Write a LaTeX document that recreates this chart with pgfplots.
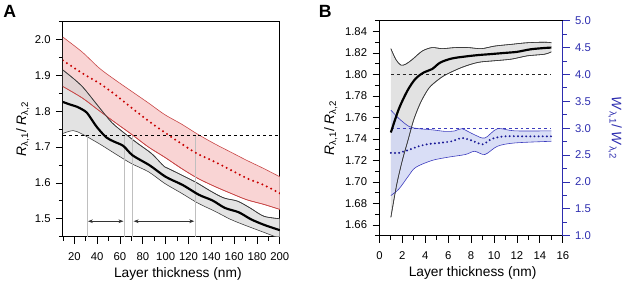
\documentclass[border=0pt]{standalone}
\usepackage{fontspec}
\setmainfont{Liberation Sans}
\usepackage{pgfplots}
\pgfplotsset{compat=1.18}
\usepgfplotslibrary{fillbetween}
\usetikzlibrary{arrows.meta}
\definecolor{redfill}{RGB}{248,205,205}
\definecolor{rededge}{RGB}{200,70,70}
\definecolor{reddot}{RGB}{200,0,0}
\definecolor{grayfill}{RGB}{226,226,226}
\definecolor{grayfillA}{RGB}{212,212,212}
\definecolor{grayedge}{RGB}{60,60,60}
\definecolor{bluefill}{RGB}{208,214,244}
\definecolor{blueedge}{RGB}{60,60,190}
\definecolor{bluedot}{RGB}{25,25,150}
\definecolor{blueaxis}{RGB}{45,45,175}
\pgfplotsset{common/.style={scale only axis, tick align=outside,
  major tick length=7bp, minor tick length=4bp,
  /pgf/number format/assume math mode=true,
  tick label style={font=\fontsize{11.5}{13}\selectfont},
  xticklabel style={yshift=-6bp},
  label style={font=\fontsize{14}{16}\selectfont},
  axis line style={line width=0.9pt},
  every tick/.style={line width=0.8pt},
  xtick pos=bottom, ytick pos=left}}
\begin{document}
\begin{tikzpicture}
% ---------------- Panel A
\begin{axis}[common, at={(62bp,48bp)}, anchor=south west, width=220bp, height=218bp,
  xmin=10, xmax=200, ymin=1.45, ymax=2.05,
  xtick={20,40,60,80,100,120,140,160,180,200}, minor xtick={10,30,50,70,90,110,130,150,170,190},
  ytick={1.5,1.6,1.7,1.8,1.9,2.0}, minor ytick={1.45,1.55,1.65,1.75,1.85,1.95,2.05},
  yticklabel style={xshift=-2bp, /pgf/number format/.cd, fixed, fixed zerofill, precision=1},
  xlabel={Layer thickness (nm)}, ylabel={\textit{R}\textsubscript{λ,1}/ \textit{R}\textsubscript{λ,2}},
  xlabel style={at={(axis description cs:0.53,-0.174)}, anchor=center},
  ylabel style={at={(axis description cs:-0.185,0.5)}, anchor=center},
]
\addplot[name path=ru, rededge, line width=0.6pt, smooth] coordinates {(10,2.007)(27,1.965)(42,1.920)(56,1.887)(70,1.856)(85,1.823)(99,1.791)(114,1.764)(128,1.736)(143,1.709)(157,1.686)(171,1.663)(186,1.640)(200,1.617)};
\addplot[name path=rl, rededge, line width=0.6pt, smooth] coordinates {(10,1.869)(27,1.837)(42,1.801)(56,1.768)(70,1.736)(85,1.700)(99,1.672)(114,1.640)(128,1.613)(143,1.590)(157,1.571)(171,1.553)(186,1.540)(200,1.526)};
\addplot[redfill, fill opacity=0.85] fill between[of=ru and rl];
\addplot[name path=bu, grayedge, line width=0.6pt, smooth] coordinates {(10,1.915)(19,1.892)(27,1.869)(33,1.846)(42,1.810)(53,1.768)(65,1.736)(76,1.709)(88,1.681)(99,1.645)(105,1.636)(117,1.617)(128,1.599)(140,1.576)(151,1.558)(163,1.549)(174,1.530)(186,1.507)(200,1.500)};
\addplot[name path=bl, grayedge, line width=0.6pt, smooth] coordinates {(10,1.738)(19,1.746)(27,1.736)(42,1.709)(56,1.681)(70,1.654)(85,1.631)(99,1.599)(114,1.571)(128,1.544)(143,1.521)(157,1.498)(171,1.480)(186,1.462)(200,1.445)};
\addplot[grayfillA, fill opacity=0.65] fill between[of=bu and bl];
\addplot[rededge, line width=0.6pt, smooth] coordinates {(10,1.869)(27,1.837)(42,1.801)(56,1.768)(70,1.736)(85,1.700)(99,1.672)(114,1.640)(128,1.613)(143,1.590)(157,1.571)(171,1.553)(186,1.540)(200,1.526)};
\addplot[grayedge, line width=0.6pt, smooth] coordinates {(10,1.915)(19,1.892)(27,1.869)(33,1.846)(42,1.810)(53,1.768)(65,1.736)(76,1.709)(88,1.681)(99,1.645)(105,1.636)(117,1.617)(128,1.599)(140,1.576)(151,1.558)(163,1.549)(174,1.530)(186,1.507)(200,1.500)};
% verticals
\addplot[black!25, line width=0.6pt] coordinates {(31,1.45)(31,1.732)};
\addplot[black!25, line width=0.6pt] coordinates {(64,1.45)(64,1.732)};
\addplot[black!25, line width=0.6pt] coordinates {(71,1.45)(71,1.732)};
\addplot[black!25, line width=0.6pt] coordinates {(126,1.45)(126,1.732)};
% dashed
\addplot[black, dashed, line width=0.8pt] coordinates {(10,1.732)(200,1.732)};
% means
\addplot[reddot, line width=2.3pt, line cap=round, dash pattern=on 0pt off 5pt, smooth] coordinates {(10,1.942)(27,1.906)(42,1.878)(56,1.846)(70,1.810)(85,1.773)(99,1.741)(114,1.709)(128,1.681)(143,1.659)(157,1.636)(171,1.613)(186,1.594)(200,1.571)};
\addplot[black, line width=2.2pt, smooth] coordinates {(10,1.826)(16,1.819)(22,1.813)(27,1.805)(31,1.796)(35,1.778)(40,1.755)(48,1.727)(55,1.715)(63,1.703)(71,1.677)(86,1.649)(100,1.617)(115,1.594)(129,1.567)(141,1.551)(152,1.530)(164,1.518)(175,1.498)(187,1.482)(200,1.468)};
% arrows
\addplot[black!80, line width=0.6pt, {Stealth[length=5bp]}-{Stealth[length=5bp]}] coordinates {(32,1.493)(63,1.493)};
\addplot[black!80, line width=0.6pt, {Stealth[length=5bp]}-{Stealth[length=5bp]}] coordinates {(72,1.493)(125,1.493)};
\end{axis}
% ---------------- Panel B left
\begin{axis}[common, at={(383bp,49bp)}, anchor=south west, width=186bp, height=218bp,
  xmin=0, xmax=16, ymin=1.65, ymax=1.85,
  xtick={0,2,4,6,8,10,12,14,16}, minor xtick={1,3,5,7,9,11,13,15},
  ytick={1.66,1.68,1.70,1.72,1.74,1.76,1.78,1.80,1.82,1.84},
  minor ytick={1.65,1.67,1.69,1.71,1.73,1.75,1.77,1.79,1.81,1.83,1.85},
  yticklabel style={xshift=-2bp, /pgf/number format/.cd, fixed, fixed zerofill, precision=2},
  xlabel={Layer thickness (nm)}, ylabel={\textit{R}\textsubscript{λ,1}/ \textit{R}\textsubscript{λ,2}},
  xlabel style={at={(axis description cs:0.508,-0.174)}, anchor=center},
  ylabel style={at={(axis description cs:-0.265,0.5)}, anchor=center},
]
\addplot[name path=ku, grayedge, line width=0.6pt, smooth] coordinates {(1,1.824)(1.43,1.814)(1.87,1.8087)(2.3,1.8096)(2.88,1.814)(3.74,1.8218)(4.6,1.825)(5.47,1.824)(6.6,1.825)(7.76,1.825)(8.9,1.824)(10.06,1.8264)(11.5,1.828)(12.9,1.8295)(14.4,1.830)(15,1.8295)};
\addplot[name path=kl, grayedge, line width=0.6pt, smooth] coordinates {(1,1.667)(1.5,1.697)(2,1.720)(2.5,1.739)(3,1.758)(3.6,1.774)(4.3,1.787)(5,1.794)(5.75,1.7995)(7.2,1.8066)(8.6,1.8112)(10,1.8127)(11.5,1.8142)(12.9,1.8173)(14.4,1.8188)(15,1.821)};
\addplot[grayfill] fill between[of=ku and kl];
\addplot[black!85, dashed, line width=0.8pt] coordinates {(1,1.80)(15,1.80)};
\end{axis}
% ---------------- Panel B right (blue)
\begin{axis}[common, at={(383bp,49bp)}, anchor=south west, width=186bp, height=218bp,
  xmin=0, xmax=16, ymin=1, ymax=5,
  axis x line=none, axis y line*=right, ytick pos=right,
  ytick={1,1.5,2,2.5,3,3.5,4,4.5,5}, minor ytick={1.25,1.75,2.25,2.75,3.25,3.75,4.25,4.75},
  y axis line style={blueaxis, line width=0.9pt},
  every y tick/.style={blueaxis, line width=0.8pt},
  yticklabel style={blueaxis, xshift=2bp, /pgf/number format/.cd, fixed, fixed zerofill, precision=1},
  ylabel={\textit{W}\textsubscript{λ,1}/ \textit{W}\textsubscript{λ,2}},
  ylabel style={blueaxis, at={(axis description cs:1.285,0.5)}, anchor=center, rotate=180},
]
\addplot[name path=wu, blueedge, line width=0.6pt, smooth] coordinates {(1,3.336)(1.7,3.18)(2.6,3.03)(3.45,2.99)(4.6,2.97)(5.75,2.94)(6.6,2.95)(7.2,2.99)(8.3,2.877)(9.2,2.817)(10.3,2.99)(11.8,2.95)(15,2.95)};
\addplot[name path=wl, blueedge, line width=0.6pt, smooth] coordinates {(1,1.747)(1.7,1.868)(2.5,2.10)(3.16,2.27)(4.6,2.40)(6.0,2.46)(7.5,2.51)(8.3,2.57)(9.2,2.51)(10.3,2.664)(11.8,2.725)(15,2.756)};
\addplot[bluefill, fill opacity=0.8] fill between[of=wu and wl];
\addplot[blueedge, dashed, line width=0.8pt] coordinates {(1,3.0)(15,3.0)};
\addplot[bluedot, line width=2.2pt, line cap=round, dash pattern=on 0pt off 4.2pt, smooth] coordinates {(1,2.54)(1.7,2.54)(2.6,2.60)(3.45,2.664)(4.3,2.706)(5.2,2.725)(6.3,2.756)(7.2,2.817)(8.05,2.77)(9.0,2.70)(9.8,2.80)(10.9,2.848)(12.6,2.848)(15,2.848)};
% black lines on top (W = 1 + (R-1.65)/0.05)
\addplot[grayedge, line width=0.6pt, smooth] coordinates {(1,4.48)(1.43,4.28)(1.87,4.174)(2.3,4.192)(2.88,4.28)(3.74,4.436)(4.6,4.50)(5.47,4.48)(6.6,4.50)(7.76,4.50)(8.9,4.48)(10.06,4.528)(11.5,4.56)(12.9,4.59)(14.4,4.60)(15,4.59)};
\addplot[grayedge, line width=0.6pt, smooth] coordinates {(1,1.34)(1.5,1.94)(2,2.40)(2.5,2.78)(3,3.16)(3.6,3.48)(4.3,3.74)(5,3.88)(5.75,3.99)(7.2,4.132)(8.6,4.224)(10,4.254)(11.5,4.284)(12.9,4.346)(14.4,4.376)(15,4.42)};
\addplot[black, line width=2.2pt, smooth] coordinates {(1,2.92)(1.7,3.36)(2.45,3.70)(3.15,3.92)(3.9,4.04)(4.6,4.10)(5.3,4.22)(6.3,4.296)(7.5,4.334)(8.6,4.36)(9.8,4.38)(10.9,4.40)(12,4.42)(13.2,4.468)(14.4,4.492)(15,4.50)};
\end{axis}
\node[font=\fontsize{18}{20}\selectfont\bfseries] at (8bp,276bp) {A};
\node[font=\fontsize{18}{20}\selectfont\bfseries] at (328bp,276bp) {B};
\path (0,0) rectangle (625bp,288bp);
\end{tikzpicture}
\end{document}
